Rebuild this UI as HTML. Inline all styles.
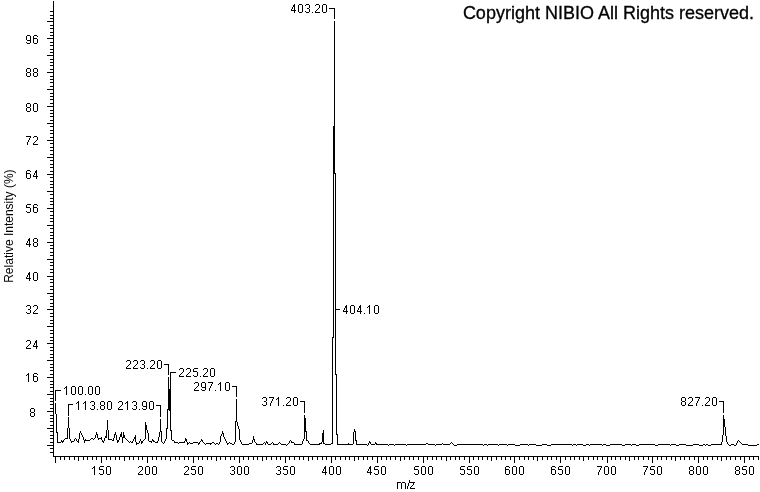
<!DOCTYPE html>
<html><head><meta charset="utf-8"><style>html,body{margin:0;padding:0;background:#fff;width:760px;height:492px;overflow:hidden}</style></head>
<body><svg width="760" height="492" viewBox="0 0 760 492" style="position:absolute;left:0;top:0;will-change:transform">
<defs><path id="g0" d="M1 0h3v1h-3zM0 1h1v1h-1zM4 1h1v1h-1zM0 2h1v1h-1zM4 2h1v1h-1zM0 3h1v1h-1zM4 3h1v1h-1zM0 4h1v1h-1zM4 4h1v1h-1zM0 5h1v1h-1zM4 5h1v1h-1zM0 6h1v1h-1zM4 6h1v1h-1zM0 7h1v1h-1zM4 7h1v1h-1zM1 8h3v1h-3z"/><path id="g1" d="M2 0h1v1h-1zM1 1h2v1h-2zM0 2h1v1h-1zM2 2h1v1h-1zM2 3h1v1h-1zM2 4h1v1h-1zM2 5h1v1h-1zM2 6h1v1h-1zM2 7h1v1h-1zM2 8h1v1h-1z"/><path id="g2" d="M1 0h3v1h-3zM0 1h1v1h-1zM4 1h1v1h-1zM4 2h1v1h-1zM4 3h1v1h-1zM3 4h1v1h-1zM2 5h1v1h-1zM1 6h1v1h-1zM0 7h1v1h-1zM0 8h5v1h-5z"/><path id="g3" d="M1 0h3v1h-3zM0 1h1v1h-1zM4 1h1v1h-1zM4 2h1v1h-1zM4 3h1v1h-1zM2 4h2v1h-2zM4 5h1v1h-1zM4 6h1v1h-1zM0 7h1v1h-1zM4 7h1v1h-1zM1 8h3v1h-3z"/><path id="g4" d="M3 0h1v1h-1zM2 1h2v1h-2zM2 2h2v1h-2zM1 3h1v1h-1zM3 3h1v1h-1zM1 4h1v1h-1zM3 4h1v1h-1zM0 5h1v1h-1zM3 5h1v1h-1zM0 6h5v1h-5zM3 7h1v1h-1zM3 8h1v1h-1z"/><path id="g5" d="M1 0h4v1h-4zM0 1h1v1h-1zM0 2h1v1h-1zM0 3h4v1h-4zM4 4h1v1h-1zM4 5h1v1h-1zM4 6h1v1h-1zM0 7h1v1h-1zM4 7h1v1h-1zM1 8h3v1h-3z"/><path id="g6" d="M1 0h3v1h-3zM0 1h1v1h-1zM4 1h1v1h-1zM0 2h1v1h-1zM0 3h4v1h-4zM0 4h1v1h-1zM4 4h1v1h-1zM0 5h1v1h-1zM4 5h1v1h-1zM0 6h1v1h-1zM4 6h1v1h-1zM0 7h1v1h-1zM4 7h1v1h-1zM1 8h3v1h-3z"/><path id="g7" d="M0 0h5v1h-5zM4 1h1v1h-1zM3 2h1v1h-1zM3 3h1v1h-1zM2 4h1v1h-1zM2 5h1v1h-1zM1 6h1v1h-1zM1 7h1v1h-1zM1 8h1v1h-1z"/><path id="g8" d="M1 0h3v1h-3zM0 1h1v1h-1zM4 1h1v1h-1zM0 2h1v1h-1zM4 2h1v1h-1zM0 3h1v1h-1zM4 3h1v1h-1zM1 4h3v1h-3zM0 5h1v1h-1zM4 5h1v1h-1zM0 6h1v1h-1zM4 6h1v1h-1zM0 7h1v1h-1zM4 7h1v1h-1zM1 8h3v1h-3z"/><path id="g9" d="M1 0h3v1h-3zM0 1h1v1h-1zM4 1h1v1h-1zM0 2h1v1h-1zM4 2h1v1h-1zM0 3h1v1h-1zM4 3h1v1h-1zM0 4h1v1h-1zM4 4h1v1h-1zM1 5h4v1h-4zM4 6h1v1h-1zM0 7h1v1h-1zM4 7h1v1h-1zM1 8h3v1h-3z"/><path id="gd" d="M0 8h1v1h-1z"/><path id="gm" d="M0 0h4v1h-4zM5 0h3v1h-3zM0 1h1v1h-1zM4 1h1v1h-1zM8 1h1v1h-1zM0 2h1v1h-1zM4 2h1v1h-1zM8 2h1v1h-1zM0 3h1v1h-1zM4 3h1v1h-1zM8 3h1v1h-1zM0 4h1v1h-1zM4 4h1v1h-1zM8 4h1v1h-1zM0 5h1v1h-1zM4 5h1v1h-1zM8 5h1v1h-1zM0 6h1v1h-1zM4 6h1v1h-1zM8 6h1v1h-1z"/><path id="gs" d="M2 0h1v1h-1zM2 1h1v1h-1zM2 2h1v1h-1zM1 3h1v1h-1zM1 4h1v1h-1zM1 5h1v1h-1zM0 6h1v1h-1zM0 7h1v1h-1zM0 8h1v1h-1z"/><path id="gz" d="M0 0h5v1h-5zM3 1h1v1h-1zM3 2h1v1h-1zM2 3h1v1h-1zM1 4h1v1h-1zM0 5h1v1h-1zM0 6h5v1h-5z"/></defs>
<path fill="#000" shape-rendering="crispEdges" d="M329 8h6v1h-6zM53 1h1v10h-1zM50 11h4v1h-4zM53 12h1v3h-1zM50 15h4v1h-4zM53 16h1v2h-1zM50 18h4v1h-4zM334 9h1v10h-1zM53 19h1v2h-1zM47 21h7v1h-7zM53 22h1v3h-1zM50 25h4v1h-4zM53 26h1v2h-1zM50 28h4v1h-4zM53 29h1v3h-1zM50 32h4v1h-4zM53 33h1v2h-1zM50 35h4v1h-4zM53 36h1v2h-1zM47 38h7v1h-7zM53 39h1v3h-1zM50 42h4v1h-4zM53 43h1v2h-1zM50 45h4v1h-4zM53 46h1v3h-1zM50 49h4v1h-4zM53 50h1v2h-1zM50 52h4v1h-4zM53 53h1v2h-1zM47 55h7v1h-7zM53 56h1v3h-1zM50 59h4v1h-4zM53 60h1v2h-1zM50 62h4v1h-4zM53 63h1v2h-1zM50 65h4v1h-4zM53 66h1v3h-1zM50 69h4v1h-4zM53 70h1v2h-1zM47 72h7v1h-7zM53 73h1v3h-1zM50 76h4v1h-4zM53 77h1v2h-1zM50 79h4v1h-4zM53 80h1v2h-1zM50 82h4v1h-4zM53 83h1v3h-1zM50 86h4v1h-4zM53 87h1v2h-1zM47 89h7v1h-7zM53 90h1v3h-1zM50 93h4v1h-4zM53 94h1v2h-1zM50 96h4v1h-4zM53 97h1v2h-1zM50 99h4v1h-4zM53 100h1v3h-1zM50 103h4v1h-4zM53 104h1v2h-1zM47 106h7v1h-7zM53 107h1v3h-1zM50 110h4v1h-4zM53 111h1v2h-1zM50 113h4v1h-4zM53 114h1v2h-1zM50 116h4v1h-4zM53 117h1v3h-1zM50 120h4v1h-4zM53 121h1v2h-1zM47 123h7v1h-7zM334 21h1v105h-1zM53 124h1v2h-1zM50 126h4v1h-4zM53 127h1v3h-1zM50 130h4v1h-4zM53 131h1v2h-1zM50 133h4v1h-4zM53 134h1v3h-1zM50 137h4v1h-4zM53 138h1v2h-1zM47 140h7v1h-7zM53 141h1v2h-1zM50 143h4v1h-4zM53 144h1v3h-1zM50 147h4v1h-4zM53 148h1v2h-1zM50 150h4v1h-4zM53 151h1v3h-1zM50 154h4v1h-4zM53 155h1v2h-1zM47 157h7v1h-7zM53 158h1v2h-1zM50 160h4v1h-4zM53 161h1v3h-1zM50 164h4v1h-4zM53 165h1v2h-1zM50 167h4v1h-4zM53 168h1v3h-1zM50 171h4v1h-4zM333 126h2v47h-2zM333 173h3v1h-3zM53 172h1v2h-1zM47 174h7v1h-7zM53 175h1v2h-1zM50 177h4v1h-4zM53 178h1v3h-1zM50 181h4v1h-4zM53 182h1v2h-1zM50 184h4v1h-4zM53 185h1v2h-1zM50 187h4v1h-4zM53 188h1v3h-1zM47 191h7v1h-7zM53 192h1v2h-1zM50 194h4v1h-4zM53 195h1v3h-1zM50 198h4v1h-4zM53 199h1v2h-1zM50 201h4v1h-4zM53 202h1v2h-1zM50 204h4v1h-4zM53 205h1v3h-1zM47 208h7v1h-7zM53 209h1v2h-1zM50 211h4v1h-4zM53 212h1v3h-1zM50 215h4v1h-4zM53 216h1v2h-1zM50 218h4v1h-4zM53 219h1v2h-1zM50 221h4v1h-4zM53 222h1v3h-1zM47 225h7v1h-7zM53 226h1v2h-1zM50 228h4v1h-4zM53 229h1v3h-1zM50 232h4v1h-4zM53 233h1v2h-1zM50 235h4v1h-4zM53 236h1v2h-1zM50 238h4v1h-4zM53 239h1v3h-1zM47 242h7v1h-7zM53 243h1v2h-1zM50 245h4v1h-4zM53 246h1v2h-1zM50 248h4v1h-4zM53 249h1v3h-1zM50 252h4v1h-4zM53 253h1v2h-1zM50 255h4v1h-4zM53 256h1v3h-1zM47 259h7v1h-7zM53 260h1v2h-1zM50 262h4v1h-4zM53 263h1v2h-1zM50 265h4v1h-4zM53 266h1v3h-1zM50 269h4v1h-4zM53 270h1v2h-1zM50 272h4v1h-4zM53 273h1v3h-1zM47 276h7v1h-7zM53 277h1v2h-1zM50 279h4v1h-4zM53 280h1v2h-1zM50 282h4v1h-4zM53 283h1v3h-1zM50 286h4v1h-4zM53 287h1v2h-1zM50 289h4v1h-4zM53 290h1v3h-1zM47 293h7v1h-7zM53 294h1v2h-1zM50 296h4v1h-4zM53 297h1v2h-1zM50 299h4v1h-4zM53 300h1v3h-1zM50 303h4v1h-4zM53 304h1v2h-1zM50 306h4v1h-4zM335 174h1v135h-1zM53 307h1v2h-1zM47 309h7v1h-7zM335 309h5v1h-5zM53 310h1v3h-1zM50 313h4v1h-4zM53 314h1v2h-1zM50 316h4v1h-4zM53 317h1v3h-1zM50 320h4v1h-4zM53 321h1v2h-1zM50 323h4v1h-4zM53 324h1v2h-1zM47 326h7v1h-7zM53 327h1v3h-1zM50 330h4v1h-4zM53 331h1v2h-1zM50 333h4v1h-4zM53 334h1v3h-1zM333 174h1v163h-1zM50 337h4v1h-4zM332 337h2v1h-2zM53 338h1v2h-1zM50 340h4v1h-4zM53 341h1v2h-1zM47 343h7v1h-7zM53 344h1v3h-1zM50 347h4v1h-4zM53 348h1v2h-1zM50 350h4v1h-4zM53 351h1v3h-1zM50 354h4v1h-4zM53 355h1v2h-1zM50 357h4v1h-4zM53 358h1v2h-1zM47 360h7v1h-7zM53 361h1v3h-1zM50 364h4v1h-4zM164 364h5v1h-5zM53 365h1v2h-1zM50 367h4v1h-4zM53 368h1v2h-1zM50 370h4v1h-4zM170 372h6v1h-6zM53 371h1v3h-1zM335 310h1v64h-1zM50 374h4v1h-4zM335 374h2v1h-2zM168 365h1v10h-1zM53 375h1v2h-1zM47 377h7v1h-7zM53 378h1v3h-1zM50 381h4v1h-4zM53 382h1v2h-1zM50 384h4v1h-4zM53 385h1v2h-1zM232 386h5v1h-5zM50 387h4v1h-4zM168 377h1v12h-1zM170 373h1v16h-1zM53 388h1v3h-1zM55 390h6v1h-6zM50 391h4v1h-4zM53 392h1v2h-1zM47 394h7v1h-7zM236 387h1v10h-1zM53 395h1v3h-1zM50 398h4v1h-4zM53 399h1v2h-1zM55 391h1v10h-1zM50 401h4v1h-4zM300 401h5v1h-5zM719 401h5v1h-5zM53 402h1v2h-1zM50 404h4v1h-4zM68 404h5v1h-5zM156 405h5v1h-5zM53 405h1v3h-1zM50 408h4v1h-4zM168 389h3v20h-3zM167 409h4v1h-4zM169 410h2v1h-2zM53 409h1v2h-1zM47 411h7v1h-7zM304 402h1v11h-1zM723 402h1v11h-1zM55 403h1v11h-1zM53 412h1v3h-1zM50 415h4v1h-4zM68 405h1v11h-1zM160 406h1v11h-1zM53 416h1v2h-1zM304 415h1v3h-1zM50 418h4v1h-4zM723 415h1v4h-1zM53 419h1v2h-1zM236 399h1v22h-1zM50 421h4v1h-4zM235 421h2v1h-2zM53 422h1v3h-1zM145 422h1v3h-1zM50 425h4v1h-4zM237 422h1v4h-1zM723 419h2v8h-2zM68 417h1v11h-1zM53 426h1v2h-1zM167 410h1v18h-1zM238 426h1v3h-1zM47 428h7v1h-7zM166 428h2v1h-2zM107 420h1v10h-1zM145 425h2v5h-2zM170 411h1v19h-1zM53 429h1v2h-1zM354 429h1v2h-1zM160 419h1v12h-1zM170 430h2v1h-2zM304 418h2v13h-2zM56 414h1v18h-1zM354 431h2v1h-2zM160 431h2v1h-2zM304 431h3v1h-3zM50 431h4v1h-4zM80 431h1v2h-1zM222 431h1v2h-1zM323 430h1v3h-1zM147 430h1v3h-1zM56 432h2v1h-2zM222 433h2v1h-2zM115 432h1v2h-1zM121 432h1v2h-1zM336 375h1v59h-1zM96 432h1v2h-1zM114 434h2v1h-2zM53 432h1v3h-1zM336 434h2v1h-2zM96 434h2v1h-2zM123 432h1v3h-1zM81 433h1v2h-1zM723 427h1v8h-1zM725 427h1v9h-1zM221 434h1v2h-1zM106 430h1v6h-1zM50 435h4v1h-4zM135 435h1v2h-1zM223 434h1v3h-1zM82 435h1v2h-1zM123 435h2v2h-2zM159 432h1v5h-1zM120 434h2v3h-2zM122 437h3v1h-3zM95 435h1v3h-1zM53 436h1v2h-1zM97 435h1v3h-1zM105 436h2v2h-2zM101 437h1v1h-1zM114 435h1v3h-1zM67 428h1v10h-1zM166 429h1v10h-1zM69 428h1v11h-1zM65 438h3v1h-3zM304 432h1v7h-1zM185 438h1v1h-1zM134 437h2v2h-2zM108 430h1v9h-1zM75 438h1v1h-1zM79 433h1v6h-1zM145 430h1v9h-1zM253 436h1v3h-1zM125 438h1v1h-1zM224 437h1v2h-1zM94 438h1v1h-1zM91 438h2v1h-2zM50 438h4v1h-4zM98 438h4v1h-4zM144 439h1v1h-1zM93 439h1v1h-1zM126 439h1v1h-1zM253 439h2v1h-2zM113 438h1v2h-1zM201 439h1v1h-1zM355 432h1v8h-1zM64 439h1v1h-1zM119 437h1v3h-1zM152 439h1v1h-1zM306 432h1v8h-1zM108 439h4v1h-4zM90 439h1v1h-1zM101 439h1v1h-1zM83 437h1v3h-1zM116 435h1v5h-1zM171 431h1v9h-1zM85 439h1v1h-1zM98 439h1v1h-1zM239 429h1v11h-1zM133 439h1v2h-1zM152 440h2v1h-2zM185 439h2v2h-2zM102 440h1v1h-1zM148 433h1v8h-1zM738 440h1v1h-1zM112 440h2v1h-2zM104 438h1v3h-1zM225 439h1v2h-1zM63 440h1v1h-1zM143 440h1v1h-1zM165 439h1v2h-1zM290 440h1v1h-1zM84 440h6v1h-6zM158 437h1v4h-1zM127 440h1v1h-1zM70 439h1v2h-1zM74 439h1v2h-1zM61 440h1v1h-1zM140 439h1v2h-1zM303 439h1v2h-1zM306 440h2v1h-2zM76 439h1v2h-1zM355 440h2v1h-2zM201 440h2v1h-2zM172 440h2v1h-2zM78 439h1v2h-1zM77 441h2v1h-2zM254 440h1v2h-1zM135 439h1v3h-1zM157 441h1v1h-1zM149 441h3v1h-3zM61 441h3v1h-3zM128 441h1v1h-1zM161 432h1v10h-1zM53 439h1v3h-1zM291 441h1v1h-1zM174 441h1v1h-1zM240 440h1v2h-1zM130 441h1v1h-1zM722 435h1v7h-1zM132 441h1v1h-1zM57 433h1v9h-1zM220 436h1v6h-1zM726 436h1v6h-1zM200 441h1v1h-1zM266 441h1v1h-1zM202 441h1v1h-1zM235 422h1v20h-1zM71 441h3v1h-3zM153 441h2v1h-2zM739 441h1v1h-1zM102 441h2v1h-2zM369 441h1v1h-1zM186 441h1v1h-1zM322 433h2v9h-2zM184 441h1v1h-1zM117 440h2v2h-2zM141 441h2v2h-2zM199 442h1v1h-1zM375 442h1v1h-1zM289 441h1v2h-1zM740 442h1v1h-1zM737 441h1v2h-1zM266 442h2v1h-2zM203 442h1v1h-1zM62 442h1v1h-1zM84 441h1v2h-1zM71 442h1v1h-1zM117 442h1v1h-1zM139 441h1v2h-1zM193 442h5v1h-5zM155 442h3v1h-3zM174 442h4v1h-4zM264 442h1v1h-1zM369 442h2v1h-2zM229 442h1v1h-1zM187 442h1v1h-1zM451 442h1v1h-1zM131 442h2v1h-2zM308 441h1v2h-1zM57 442h4v1h-4zM189 442h1v1h-1zM321 442h1v1h-1zM103 442h1v1h-1zM136 442h1v1h-1zM179 442h6v1h-6zM323 442h1v1h-1zM332 338h1v105h-1zM291 442h3v1h-3zM255 442h1v1h-1zM212 442h2v1h-2zM279 442h1v1h-1zM50 442h4v1h-4zM226 441h1v2h-1zM129 442h1v1h-1zM151 442h1v1h-1zM162 442h1v1h-1zM164 441h1v2h-1zM252 440h1v3h-1zM122 438h1v5h-1zM272 442h1v1h-1zM78 442h1v1h-1zM353 432h1v12h-1zM452 443h1v1h-1zM309 443h1v1h-1zM256 443h1v1h-1zM278 443h1v1h-1zM302 441h1v3h-1zM214 443h1v1h-1zM206 443h6v1h-6zM727 442h1v2h-1zM198 443h2v1h-2zM187 443h2v1h-2zM234 442h1v2h-1zM267 443h1v1h-1zM323 443h2v1h-2zM280 443h1v1h-1zM337 435h1v9h-1zM348 443h1v1h-1zM370 443h1v1h-1zM271 443h1v1h-1zM141 443h1v1h-1zM273 443h1v1h-1zM190 443h3v1h-3zM163 443h1v1h-1zM178 443h1v1h-1zM356 441h1v3h-1zM249 443h3v1h-3zM426 443h2v1h-2zM230 443h2v1h-2zM331 443h2v1h-2zM288 443h1v1h-1zM375 443h2v1h-2zM442 443h1v1h-1zM741 443h1v1h-1zM204 443h1v1h-1zM721 442h1v2h-1zM294 443h1v1h-1zM450 443h1v1h-1zM219 442h1v2h-1zM319 443h3v1h-3zM136 443h3v1h-3zM216 443h2v1h-2zM227 443h2v1h-2zM241 442h1v2h-1zM263 443h1v1h-1zM736 443h1v2h-1zM273 444h5v1h-5zM210 444h1v1h-1zM679 444h7v1h-7zM265 443h1v2h-1zM287 444h1v1h-1zM428 444h7v1h-7zM529 444h7v1h-7zM693 444h6v1h-6zM711 444h11v1h-11zM256 444h7v1h-7zM376 444h12v1h-12zM325 444h6v1h-6zM757 444h2v1h-2zM368 443h1v2h-1zM671 444h5v1h-5zM639 444h16v1h-16zM443 444h7v1h-7zM632 444h4v1h-4zM53 443h1v2h-1zM227 444h1v1h-1zM356 444h11v1h-11zM218 444h1v1h-1zM337 444h16v1h-16zM573 444h3v1h-3zM706 444h2v1h-2zM205 444h1v1h-1zM389 444h5v1h-5zM281 444h5v1h-5zM499 444h8v1h-8zM586 444h3v1h-3zM187 444h1v1h-1zM198 444h1v1h-1zM242 444h7v1h-7zM294 444h8v1h-8zM453 444h1v1h-1zM457 444h26v1h-26zM136 444h1v1h-1zM508 444h7v1h-7zM728 444h1v1h-1zM310 444h10v1h-10zM551 444h21v1h-21zM407 444h19v1h-19zM742 444h6v1h-6zM577 444h6v1h-6zM436 444h6v1h-6zM232 444h2v1h-2zM703 444h2v1h-2zM590 444h12v1h-12zM395 444h11v1h-11zM731 444h3v1h-3zM215 444h1v1h-1zM488 444h10v1h-10zM610 444h12v1h-12zM625 444h6v1h-6zM603 444h3v1h-3zM484 444h3v1h-3zM658 444h12v1h-12zM542 444h5v1h-5zM520 444h8v1h-8zM268 444h3v1h-3zM371 444h4v1h-4zM547 445h4v1h-4zM515 445h5v1h-5zM507 445h1v1h-1zM748 445h9v1h-9zM708 445h3v1h-3zM47 445h7v1h-7zM498 445h1v1h-1zM655 445h3v1h-3zM670 445h1v1h-1zM705 445h1v1h-1zM606 445h4v1h-4zM388 445h1v1h-1zM536 445h6v1h-6zM487 445h1v1h-1zM622 445h3v1h-3zM394 445h1v1h-1zM286 445h1v1h-1zM528 445h1v1h-1zM454 445h3v1h-3zM572 445h1v1h-1zM676 445h3v1h-3zM636 445h3v1h-3zM734 445h2v1h-2zM367 445h1v1h-1zM631 445h1v1h-1zM435 445h1v1h-1zM576 445h1v1h-1zM686 445h7v1h-7zM699 445h4v1h-4zM406 445h1v1h-1zM583 445h3v1h-3zM729 445h2v1h-2zM589 445h1v1h-1zM602 445h1v1h-1zM483 445h1v1h-1zM53 446h1v2h-1zM50 448h4v1h-4zM53 449h1v3h-1zM50 452h4v1h-4zM53 453h1v3h-1zM53 456h706v1h-706zM386 457h1v3h-1zM758 457h1v3h-1zM69 457h1v3h-1zM441 457h1v3h-1zM496 457h1v3h-1zM335 457h1v3h-1zM707 457h1v3h-1zM643 457h1v3h-1zM152 457h1v3h-1zM524 457h1v3h-1zM207 457h1v3h-1zM579 457h1v3h-1zM326 457h1v3h-1zM165 457h1v3h-1zM220 457h1v3h-1zM671 457h1v3h-1zM726 457h1v3h-1zM684 457h1v3h-1zM367 457h1v3h-1zM565 457h1v3h-1zM248 457h1v3h-1zM620 457h1v3h-1zM303 457h1v3h-1zM602 457h1v3h-1zM184 457h1v3h-1zM556 457h1v3h-1zM712 457h1v3h-1zM395 457h1v3h-1zM450 457h1v3h-1zM133 457h1v3h-1zM505 457h1v3h-1zM188 457h1v3h-1zM661 457h1v3h-1zM547 457h1v3h-1zM322 457h1v3h-1zM106 457h1v3h-1zM478 457h1v3h-1zM161 457h1v3h-1zM533 457h1v3h-1zM588 457h1v3h-1zM271 457h1v3h-1zM427 457h1v3h-1zM110 457h1v3h-1zM482 457h1v3h-1zM680 457h1v3h-1zM363 457h1v3h-1zM735 457h1v3h-1zM418 457h1v3h-1zM299 457h1v3h-1zM312 457h1v3h-1zM74 457h1v3h-1zM129 457h1v3h-1zM501 457h1v3h-1zM657 457h1v3h-1zM404 457h1v3h-1zM87 457h1v3h-1zM459 457h1v3h-1zM142 457h1v3h-1zM340 457h1v3h-1zM289 457h1v3h-1zM740 457h1v3h-1zM115 457h1v3h-1zM487 457h1v3h-1zM542 457h1v3h-1zM225 457h1v3h-1zM597 457h1v3h-1zM280 457h1v3h-1zM381 457h1v3h-1zM703 457h1v3h-1zM64 457h1v3h-1zM436 457h1v3h-1zM119 457h1v3h-1zM753 457h1v3h-1zM689 457h1v3h-1zM372 457h1v3h-1zM198 457h1v3h-1zM570 457h1v3h-1zM253 457h1v3h-1zM625 457h1v3h-1zM638 457h1v3h-1zM519 457h1v3h-1zM202 457h1v3h-1zM574 457h1v3h-1zM257 457h1v3h-1zM717 457h1v3h-1zM83 457h1v3h-1zM455 457h1v3h-1zM138 457h1v3h-1zM510 457h1v3h-1zM611 457h1v3h-1zM666 457h1v3h-1zM349 457h1v3h-1zM243 457h1v3h-1zM593 457h1v3h-1zM276 457h1v3h-1zM615 457h1v3h-1zM60 457h1v3h-1zM432 457h1v3h-1zM694 457h1v3h-1zM749 457h1v3h-1zM179 457h1v3h-1zM551 457h1v3h-1zM234 457h1v3h-1zM390 457h1v3h-1zM634 457h1v3h-1zM317 457h1v3h-1zM473 457h1v3h-1zM156 457h1v3h-1zM528 457h1v3h-1zM211 457h1v3h-1zM266 457h1v3h-1zM409 457h1v3h-1zM92 457h1v3h-1zM464 457h1v3h-1zM358 457h1v3h-1zM345 457h1v3h-1zM413 457h1v3h-1zM730 457h1v3h-1zM96 457h1v3h-1zM294 457h1v3h-1zM175 457h1v3h-1zM648 457h1v3h-1zM230 457h1v3h-1zM124 457h1v4h-1zM170 457h1v4h-1zM216 457h1v4h-1zM491 457h1v4h-1zM262 457h1v4h-1zM537 457h1v4h-1zM308 457h1v4h-1zM354 457h1v4h-1zM583 457h1v4h-1zM400 457h1v4h-1zM629 457h1v4h-1zM675 457h1v4h-1zM446 457h1v4h-1zM721 457h1v4h-1zM78 457h1v4h-1zM101 457h1v6h-1zM560 457h1v6h-1zM607 457h1v6h-1zM469 457h1v6h-1zM377 457h1v6h-1zM239 457h1v6h-1zM147 457h1v6h-1zM55 457h1v6h-1zM744 457h1v6h-1zM285 457h1v6h-1zM193 457h1v6h-1zM698 457h1v6h-1zM652 457h1v6h-1zM514 457h1v6h-1zM423 457h1v6h-1zM331 457h1v6h-1z"/>
<g fill="#000" shape-rendering="crispEdges">
<g aria-label="403.20"><use href="#g4" x="291" y="4"/><use href="#g0" x="298" y="4"/><use href="#g3" x="305" y="4"/><use href="#gd" x="312" y="4"/><use href="#g2" x="315" y="4"/><use href="#g0" x="322" y="4"/></g><g aria-label="404.10"><use href="#g4" x="343" y="305"/><use href="#g0" x="350" y="305"/><use href="#g4" x="357" y="305"/><use href="#gd" x="364" y="305"/><use href="#g1" x="367" y="305"/><use href="#g0" x="374" y="305"/></g><g aria-label="100.00"><use href="#g1" x="64" y="386"/><use href="#g0" x="71" y="386"/><use href="#g0" x="78" y="386"/><use href="#gd" x="85" y="386"/><use href="#g0" x="88" y="386"/><use href="#g0" x="95" y="386"/></g><g aria-label="113.80"><use href="#g1" x="76" y="401"/><use href="#g1" x="83" y="401"/><use href="#g3" x="90" y="401"/><use href="#gd" x="97" y="401"/><use href="#g8" x="100" y="401"/><use href="#g0" x="107" y="401"/></g><g aria-label="213.90"><use href="#g2" x="118" y="401"/><use href="#g1" x="125" y="401"/><use href="#g3" x="132" y="401"/><use href="#gd" x="139" y="401"/><use href="#g9" x="142" y="401"/><use href="#g0" x="149" y="401"/></g><g aria-label="223.20"><use href="#g2" x="126" y="360"/><use href="#g2" x="133" y="360"/><use href="#g3" x="140" y="360"/><use href="#gd" x="147" y="360"/><use href="#g2" x="150" y="360"/><use href="#g0" x="157" y="360"/></g><g aria-label="225.20"><use href="#g2" x="179" y="368"/><use href="#g2" x="186" y="368"/><use href="#g5" x="193" y="368"/><use href="#gd" x="200" y="368"/><use href="#g2" x="203" y="368"/><use href="#g0" x="210" y="368"/></g><g aria-label="297.10"><use href="#g2" x="194" y="382"/><use href="#g9" x="201" y="382"/><use href="#g7" x="208" y="382"/><use href="#gd" x="215" y="382"/><use href="#g1" x="218" y="382"/><use href="#g0" x="225" y="382"/></g><g aria-label="371.20"><use href="#g3" x="262" y="397"/><use href="#g7" x="269" y="397"/><use href="#g1" x="276" y="397"/><use href="#gd" x="283" y="397"/><use href="#g2" x="286" y="397"/><use href="#g0" x="293" y="397"/></g><g aria-label="827.20"><use href="#g8" x="681" y="397"/><use href="#g2" x="688" y="397"/><use href="#g7" x="695" y="397"/><use href="#gd" x="702" y="397"/><use href="#g2" x="705" y="397"/><use href="#g0" x="712" y="397"/></g><g aria-label="8"><use href="#g8" x="30" y="408"/></g><g aria-label="16"><use href="#g1" x="26" y="373"/><use href="#g6" x="33" y="373"/></g><g aria-label="24"><use href="#g2" x="26" y="340"/><use href="#g4" x="33" y="340"/></g><g aria-label="32"><use href="#g3" x="26" y="305"/><use href="#g2" x="33" y="305"/></g><g aria-label="40"><use href="#g4" x="26" y="272"/><use href="#g0" x="33" y="272"/></g><g aria-label="48"><use href="#g4" x="26" y="238"/><use href="#g8" x="33" y="238"/></g><g aria-label="56"><use href="#g5" x="26" y="204"/><use href="#g6" x="33" y="204"/></g><g aria-label="64"><use href="#g6" x="26" y="170"/><use href="#g4" x="33" y="170"/></g><g aria-label="72"><use href="#g7" x="26" y="136"/><use href="#g2" x="33" y="136"/></g><g aria-label="80"><use href="#g8" x="26" y="103"/><use href="#g0" x="33" y="103"/></g><g aria-label="88"><use href="#g8" x="26" y="68"/><use href="#g8" x="33" y="68"/></g><g aria-label="96"><use href="#g9" x="26" y="35"/><use href="#g6" x="33" y="35"/></g><g aria-label="150"><use href="#g1" x="92" y="466"/><use href="#g5" x="99" y="466"/><use href="#g0" x="106" y="466"/></g><g aria-label="200"><use href="#g2" x="138" y="466"/><use href="#g0" x="145" y="466"/><use href="#g0" x="152" y="466"/></g><g aria-label="250"><use href="#g2" x="184" y="466"/><use href="#g5" x="191" y="466"/><use href="#g0" x="198" y="466"/></g><g aria-label="300"><use href="#g3" x="230" y="466"/><use href="#g0" x="237" y="466"/><use href="#g0" x="244" y="466"/></g><g aria-label="350"><use href="#g3" x="276" y="466"/><use href="#g5" x="283" y="466"/><use href="#g0" x="290" y="466"/></g><g aria-label="400"><use href="#g4" x="322" y="466"/><use href="#g0" x="329" y="466"/><use href="#g0" x="336" y="466"/></g><g aria-label="450"><use href="#g4" x="367" y="466"/><use href="#g5" x="374" y="466"/><use href="#g0" x="381" y="466"/></g><g aria-label="500"><use href="#g5" x="414" y="466"/><use href="#g0" x="421" y="466"/><use href="#g0" x="428" y="466"/></g><g aria-label="550"><use href="#g5" x="460" y="466"/><use href="#g5" x="467" y="466"/><use href="#g0" x="474" y="466"/></g><g aria-label="600"><use href="#g6" x="505" y="466"/><use href="#g0" x="512" y="466"/><use href="#g0" x="519" y="466"/></g><g aria-label="650"><use href="#g6" x="551" y="466"/><use href="#g5" x="558" y="466"/><use href="#g0" x="565" y="466"/></g><g aria-label="700"><use href="#g7" x="597" y="466"/><use href="#g0" x="604" y="466"/><use href="#g0" x="611" y="466"/></g><g aria-label="750"><use href="#g7" x="643" y="466"/><use href="#g5" x="650" y="466"/><use href="#g0" x="657" y="466"/></g><g aria-label="800"><use href="#g8" x="689" y="466"/><use href="#g0" x="696" y="466"/><use href="#g0" x="703" y="466"/></g><g aria-label="850"><use href="#g8" x="735" y="466"/><use href="#g5" x="742" y="466"/><use href="#g0" x="749" y="466"/></g><g aria-label="m/z"><use href="#gm" x="397" y="482"/><use href="#gs" x="407" y="480"/><use href="#gz" x="410" y="482"/></g>
</g>
<g font-family="Liberation Sans, sans-serif" font-size="12" fill="#000">
<text transform="translate(12.6 282.8) rotate(-90)" x="0" y="0">Relative Intensity (%)</text>
</g>
<text x="754" y="18.7" text-anchor="end" font-family="Liberation Sans, sans-serif" font-size="18" fill="#000" stroke="#000" stroke-width="0.3">Copyright NIBIO All Rights reserved.</text>
</svg></body></html>
